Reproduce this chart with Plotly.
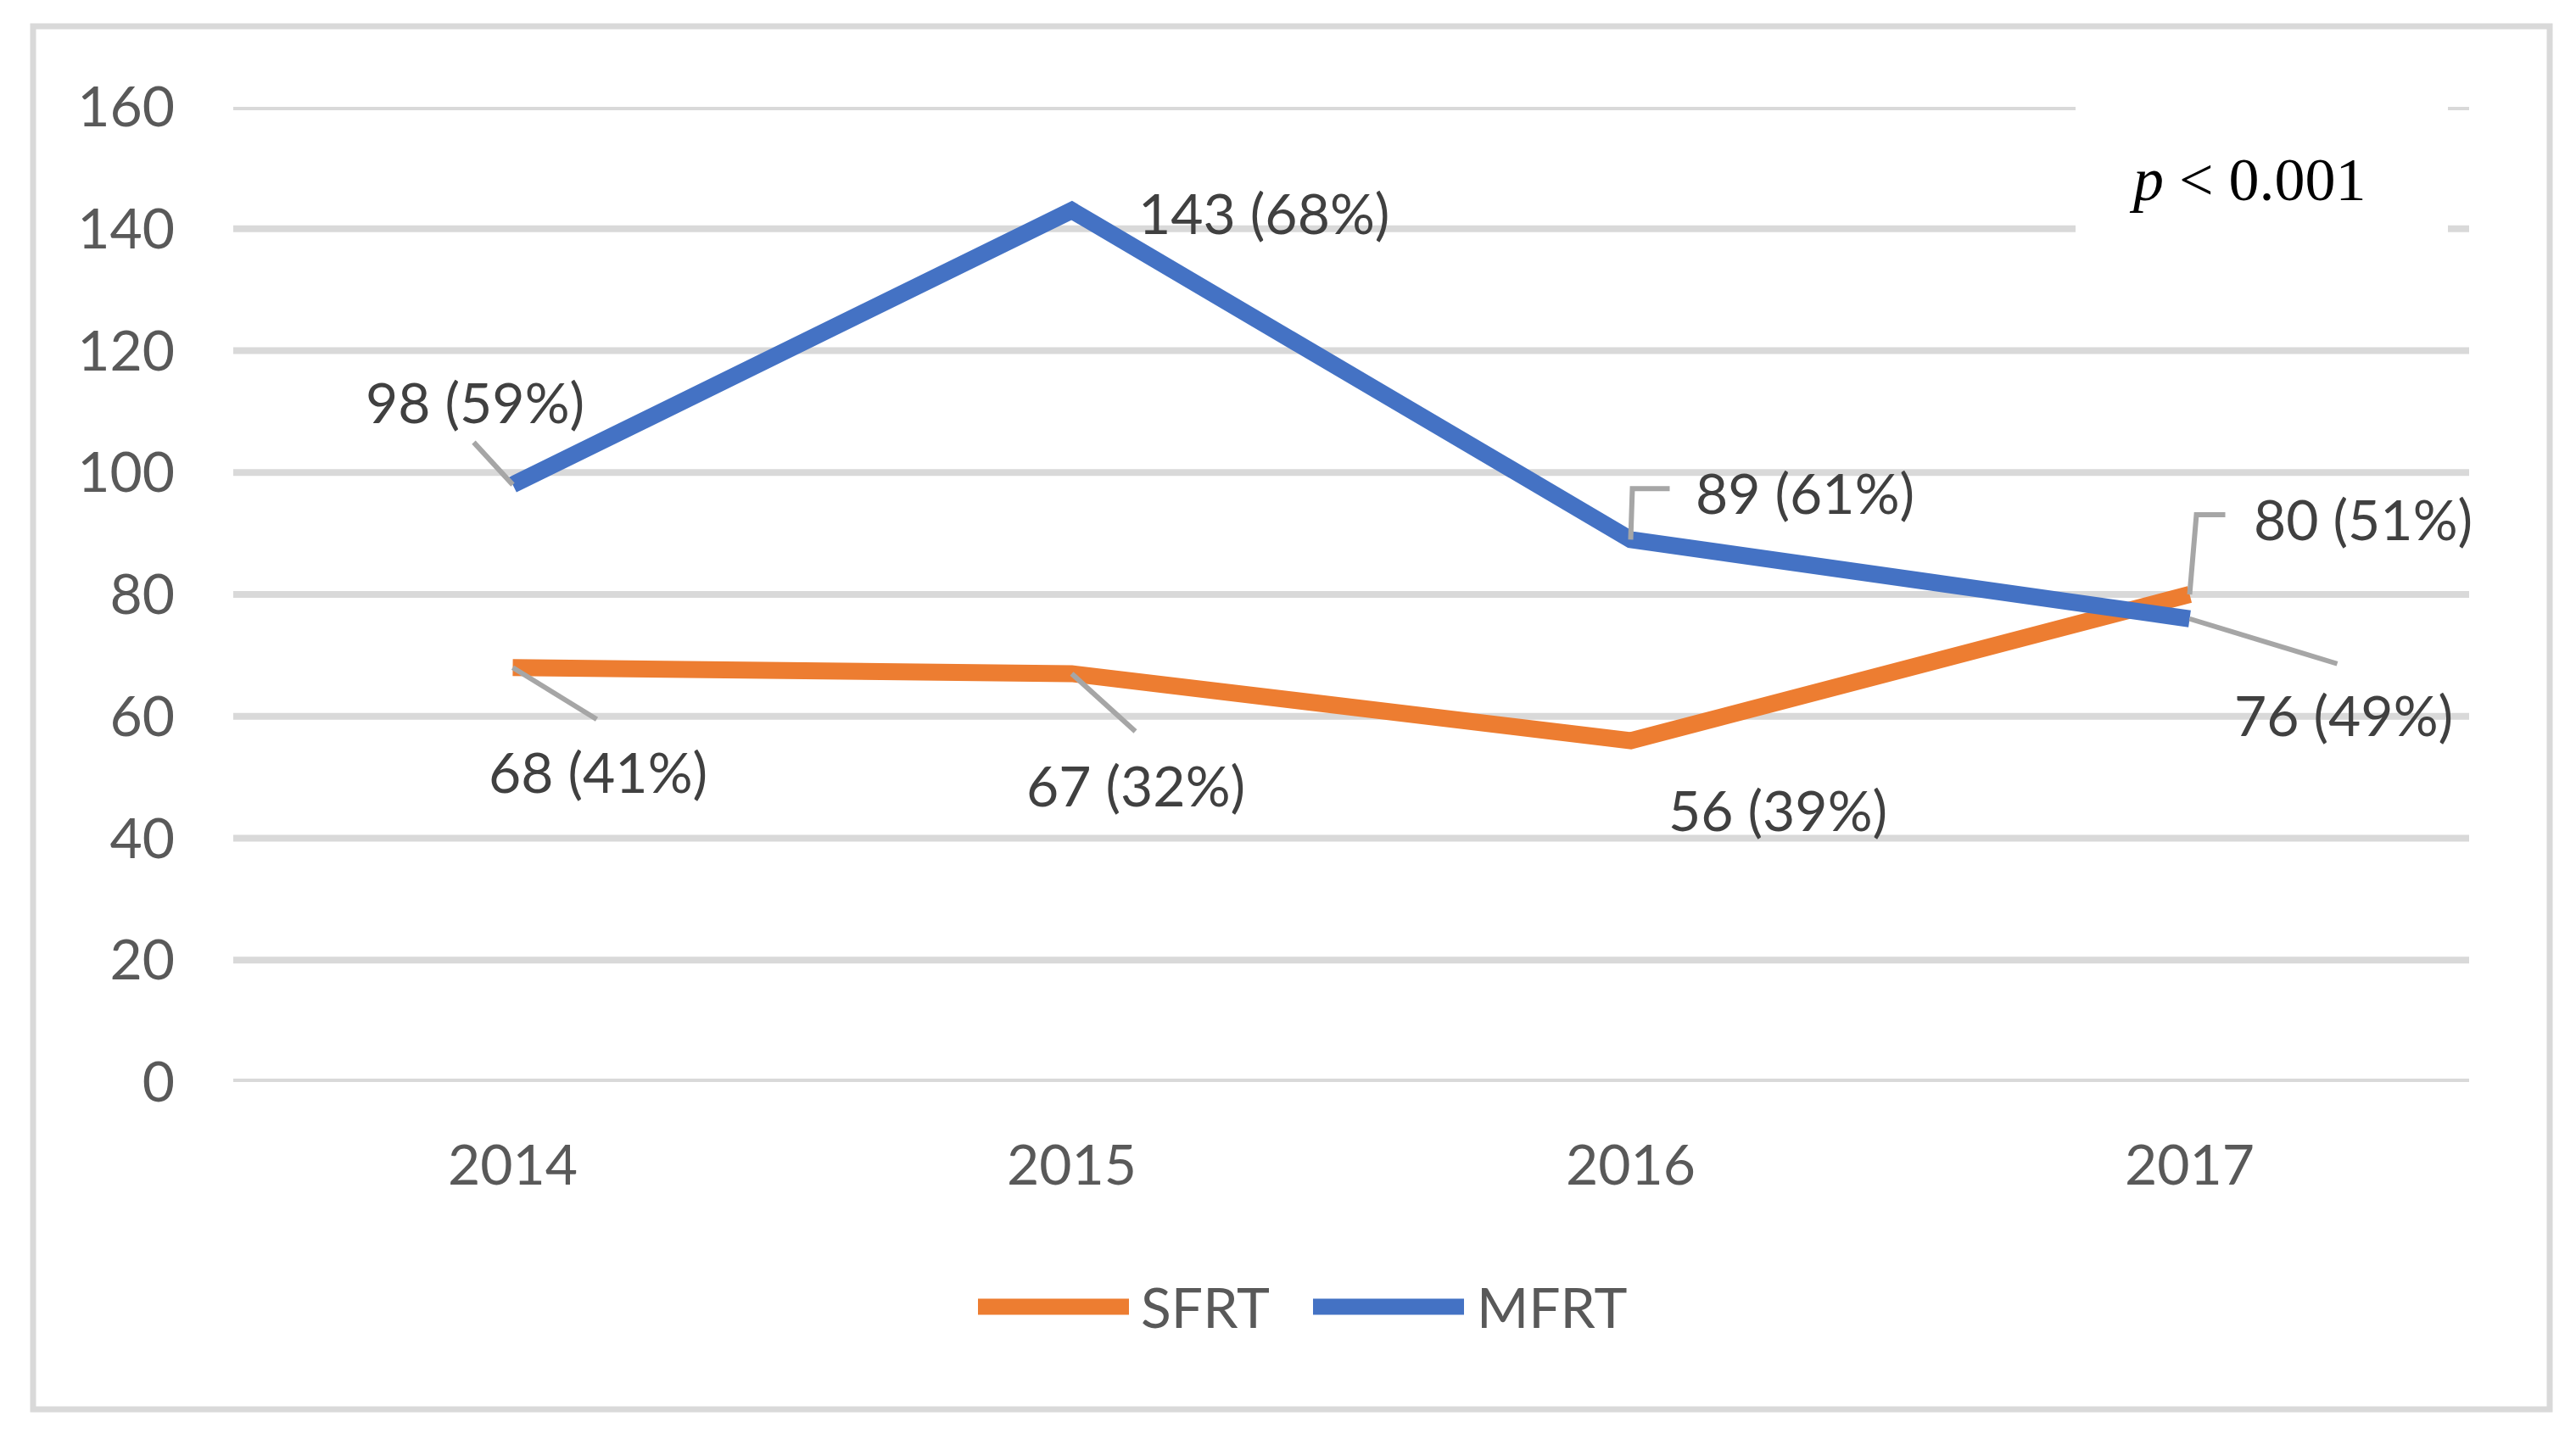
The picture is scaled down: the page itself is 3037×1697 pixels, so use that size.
import plotly.graph_objects as go

# ---------------- data ----------------
years = ["2014", "2015", "2016", "2017"]
sfrt = [68, 67, 56, 80]
mfrt = [98, 143, 89, 76]
sfrt_pct = [41, 32, 39, 51]
mfrt_pct = [59, 68, 61, 49]
y_ticks = [0, 20, 40, 60, 80, 100, 120, 140, 160]
series_names = ["SFRT", "MFRT"]
p_text = "<i>p</i> &lt; 0.001"

# ---------------- layout constants ----------------
W, H = 3037, 1697
L, R, T, B = 275, 2911, 126, 1276  # plot area in pixels
ORANGE = "#ED7D31"
BLUE = "#4472C4"
GRID = "#D9D9D9"
LEADER = "#A6A6A6"
FONT = "Lato"
FS = 66

xpos = list(range(len(years)))  # category index positions


def pxx(p):
    return (p - L) / (R - L)


def pxy(p):
    return (B - p) / (B - T)


# label offsets (xshift, yshift) in pixels relative to each data point
sfrt_label_off = [(100, -122), (75, -131), (173, -81), (204, 90)]
mfrt_label_off = [(-45, 98), (226, -2), (205, 56), (181, -113)]
# leader line paths (pixel offsets, y up) relative to data point; None = no leader
sfrt_leaders = ["M0,0L99,-61", "M0,0L75,-68", None, "M0,0L8,94L42,94"]
mfrt_leaders = ["M0,0L-46,50", None, "M0,0L2,60L46,60", "M0,0L174,-53"]

fig = go.Figure()
fig.add_trace(go.Scatter(x=xpos, y=sfrt, mode="lines", name=series_names[0],
                         line=dict(color=ORANGE, width=20), showlegend=False))
fig.add_trace(go.Scatter(x=xpos, y=mfrt, mode="lines", name=series_names[1],
                         line=dict(color=BLUE, width=20), showlegend=False))

annotations = []
shapes = []

# gridlines (drawn as shapes so the ones at 0 and 160 are kept)
for t in y_ticks:
    shapes.append(dict(type="line", xref="paper", yref="y", x0=0, x1=1, y0=t, y1=t,
                       line=dict(color=GRID, width=8), layer="below"))

# white box behind p-value text (interrupts gridlines)
shapes.append(dict(type="rect", xref="paper", yref="paper",
                   x0=pxx(2447), x1=pxx(2886), y0=pxy(300), y1=pxy(100),
                   fillcolor="white", line=dict(width=0), layer="below"))
annotations.append(dict(x=pxx(2650), y=pxy(212), xref="paper", yref="paper",
                        text=p_text, showarrow=False, xanchor="center", yanchor="middle",
                        font=dict(family="Liberation Serif", size=72, color="black")))

for vals, pcts, offs, leads in [(sfrt, sfrt_pct, sfrt_label_off, sfrt_leaders),
                                (mfrt, mfrt_pct, mfrt_label_off, mfrt_leaders)]:
    for xi, v, pc, (dx, dy), lp in zip(xpos, vals, pcts, offs, leads):
        annotations.append(dict(
            x=xi, y=v, xref="x", yref="y", text=f"{v} ({pc}%)", showarrow=False,
            xshift=dx, yshift=dy, xanchor="center", yanchor="middle",
            font=dict(family=FONT, size=FS, color="#404040")))
        if lp:
            shapes.append(dict(
                type="path", xref="x", yref="y", xsizemode="pixel", ysizemode="pixel",
                xanchor=xi, yanchor=v, path=lp,
                line=dict(color=LEADER, width=6), layer="above"))

# outer chart border
shapes.append(dict(type="rect", xref="paper", yref="paper",
                   x0=pxx(39), x1=pxx(3006), y0=pxy(1662), y1=pxy(31),
                   line=dict(color=GRID, width=7), fillcolor="rgba(0,0,0,0)", layer="below"))

# manual legend
legend_items = [(series_names[0], ORANGE, 1153, 1331, 1343),
                (series_names[1], BLUE, 1548, 1726, 1739)]
for name, col, lx0, lx1, tx in legend_items:
    shapes.append(dict(type="line", xref="paper", yref="paper",
                       x0=pxx(lx0), x1=pxx(lx1), y0=pxy(1541), y1=pxy(1541),
                       line=dict(color=col, width=19), layer="above"))
    annotations.append(dict(x=pxx(tx), y=pxy(1540), xref="paper", yref="paper",
                            text=name, showarrow=False, xanchor="left", yanchor="middle",
                            font=dict(family=FONT, size=FS, color="#595959")))

fig.update_layout(
    width=W, height=H,
    margin=dict(l=L, r=W - R, t=T, b=H - B, pad=0),
    paper_bgcolor="white", plot_bgcolor="white",
    showlegend=False,
    annotations=annotations, shapes=shapes,
    xaxis=dict(range=[-0.5, 3.5], tickmode="array", tickvals=xpos, ticktext=years,
               showgrid=False, zeroline=False, showline=False, ticks="",
               ticklabelstandoff=54,
               tickfont=dict(family=FONT, size=FS, color="#595959")),
    yaxis=dict(range=[0, 160], tickmode="array", tickvals=y_ticks,
               ticktext=[str(t) for t in y_ticks],
               showgrid=False, zeroline=False, showline=False,
               ticks="", ticklabelstandoff=68,
               tickfont=dict(family=FONT, size=FS, color="#595959")),
    hovermode=False,
)

fig.write_html("out.html", config={"displayModeBar": False},
               post_script="document.body.style.margin='0px';")
